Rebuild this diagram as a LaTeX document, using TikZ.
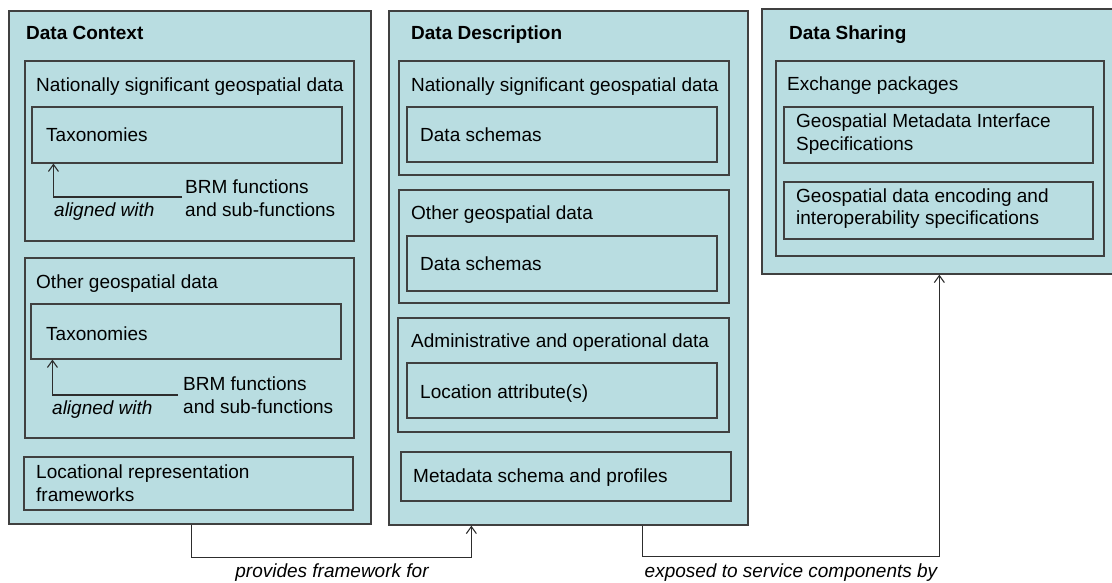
\documentclass[tikz,border=0pt]{standalone}
\usepackage{fontspec}
\setmainfont{Liberation Sans}
\usetikzlibrary{fit,arrows.meta}
\definecolor{boxfill}{RGB}{185,221,225}
\definecolor{boxline}{RGB}{64,64,64}
\definecolor{linecol}{RGB}{45,45,45}
\tikzset{
  obox/.style={draw=boxline, fill=boxfill, line width=1.3bp, inner sep=0pt},
  ibox/.style={draw=boxline, fill=boxfill, line width=1.1bp, inner sep=0pt},
  txt/.style={anchor=base west, inner sep=0pt, font=\fontsize{19bp}{23bp}\selectfont},
  ttl/.style={txt, font=\fontsize{19bp}{23bp}\selectfont\bfseries},
  itxt/.style={txt, font=\fontsize{19bp}{23bp}\selectfont\itshape},
  ctxt/.style={anchor=base, inner sep=0pt, font=\fontsize{19bp}{23bp}\selectfont\itshape},
  conn/.style={draw=linecol, line width=1.1bp},
  arr/.style={conn, -{Straight Barb[length=7bp,width=10bp,line width=1.1bp]}}
}
\begin{document}
\begin{tikzpicture}[x=1bp,y=-1bp]
\useasboundingbox (0,0) rectangle (1112,583);
% ---------- Data Context ----------
\node[obox, fit={(9,11) (371,524)}] (dc) {};
\node[ttl] (dct) at (26,40) {Data Context};
\node[ibox, fit={(25,61) (354,241)}] (dcnat) {};
\node[txt] (dcnatt) at (36,92) {Nationally significant geospatial data};
\node[ibox, fit={(32,107) (342,163)}] (tax1) {};
\node[txt] (tax1t) at (46,142) {Taxonomies};
\node[txt] (brm1a) at (185,194) {BRM functions};
\node[txt] (brm1b) at (185,217) {and sub-functions};
\node[itxt] (al1) at (54,217) {aligned with};
\coordinate (a1) at (182,197);
\draw[arr] (a1) -| ([xshift=22bp]tax1.south west);
\node[ibox, fit={(25,258) (354,438)}] (dcoth) {};
\node[txt] (dcotht) at (36,289) {Other geospatial data};
\node[ibox, fit={(31,304) (341,359)}] (tax2) {};
\node[txt] (tax2t) at (46,340) {Taxonomies};
\node[txt] (brm2a) at (183,390) {BRM functions};
\node[txt] (brm2b) at (183,413) {and sub-functions};
\node[itxt] (al2) at (52,414) {aligned with};
\coordinate (a2) at (178,395);
\draw[arr] (a2) -| ([xshift=22bp]tax2.south west);
\node[ibox, fit={(24,457) (353,510)}] (loc) {};
\node[txt] (loca) at (36,478) {Locational representation};
\node[txt] (locb) at (36,501) {frameworks};
% ---------- Data Description ----------
\node[obox, fit={(389,11) (748,525)}] (dd) {};
\node[ttl] (ddt) at (411,40) {Data Description};
\node[ibox, fit={(399,61) (729,175)}] (ddnat) {};
\node[txt] (ddnatt) at (411,92) {Nationally significant geospatial data};
\node[ibox, fit={(407,107) (717,162)}] (ds1) {};
\node[txt] (ds1t) at (420,142) {Data schemas};
\node[ibox, fit={(399,190) (729,303)}] (ddoth) {};
\node[txt] (ddotht) at (411,220) {Other geospatial data};
\node[ibox, fit={(407,236) (717,291)}] (ds2) {};
\node[txt] (ds2t) at (420,271) {Data schemas};
\node[ibox, fit={(398,318) (729,432)}] (adm) {};
\node[txt] (admt) at (411,347) {Administrative and operational data};
\node[ibox, fit={(407,363) (717,418)}] (la) {};
\node[txt] (lat) at (420,398) {Location attribute(s)};
\node[ibox, fit={(401,452) (731,501)}] (meta) {};
\node[txt] (metat) at (413,482) {Metadata schema and profiles};
% ---------- Data Sharing ----------
\node[obox, fit={(762,9) (1116,274)}] (ds) {};
\node[ttl] (dst) at (789,40) {Data Sharing};
\node[ibox, fit={(776,61) (1104,256)}] (exch) {};
\node[txt] (excht) at (787,91) {Exchange packages};
\node[ibox, fit={(784,107) (1093,163)}] (gmis) {};
\node[txt] (gmisa) at (796,128) {Geospatial Metadata Interface};
\node[txt] (gmisb) at (796,151) {Specifications};
\node[ibox, fit={(784,182) (1093,239)}] (gde) {};
\node[txt] (gdea) at (796,203) {Geospatial data encoding and};
\node[txt] (gdeb) at (796,225) {interoperability specifications};
% ---------- connectors ----------
\draw[arr] ([xshift=183bp]dc.south west) -- ++(0,33) -| ([xshift=83bp]dd.south west);
\node[ctxt] (prov) at (332,577) {provides framework for};
\draw[arr] ([xshift=254bp]dd.south west) -- ++(0,31) -| ([xshift=178bp]ds.south west);
\node[ctxt] (expo) at (791,577) {exposed to service components by};
\end{tikzpicture}
\end{document}
